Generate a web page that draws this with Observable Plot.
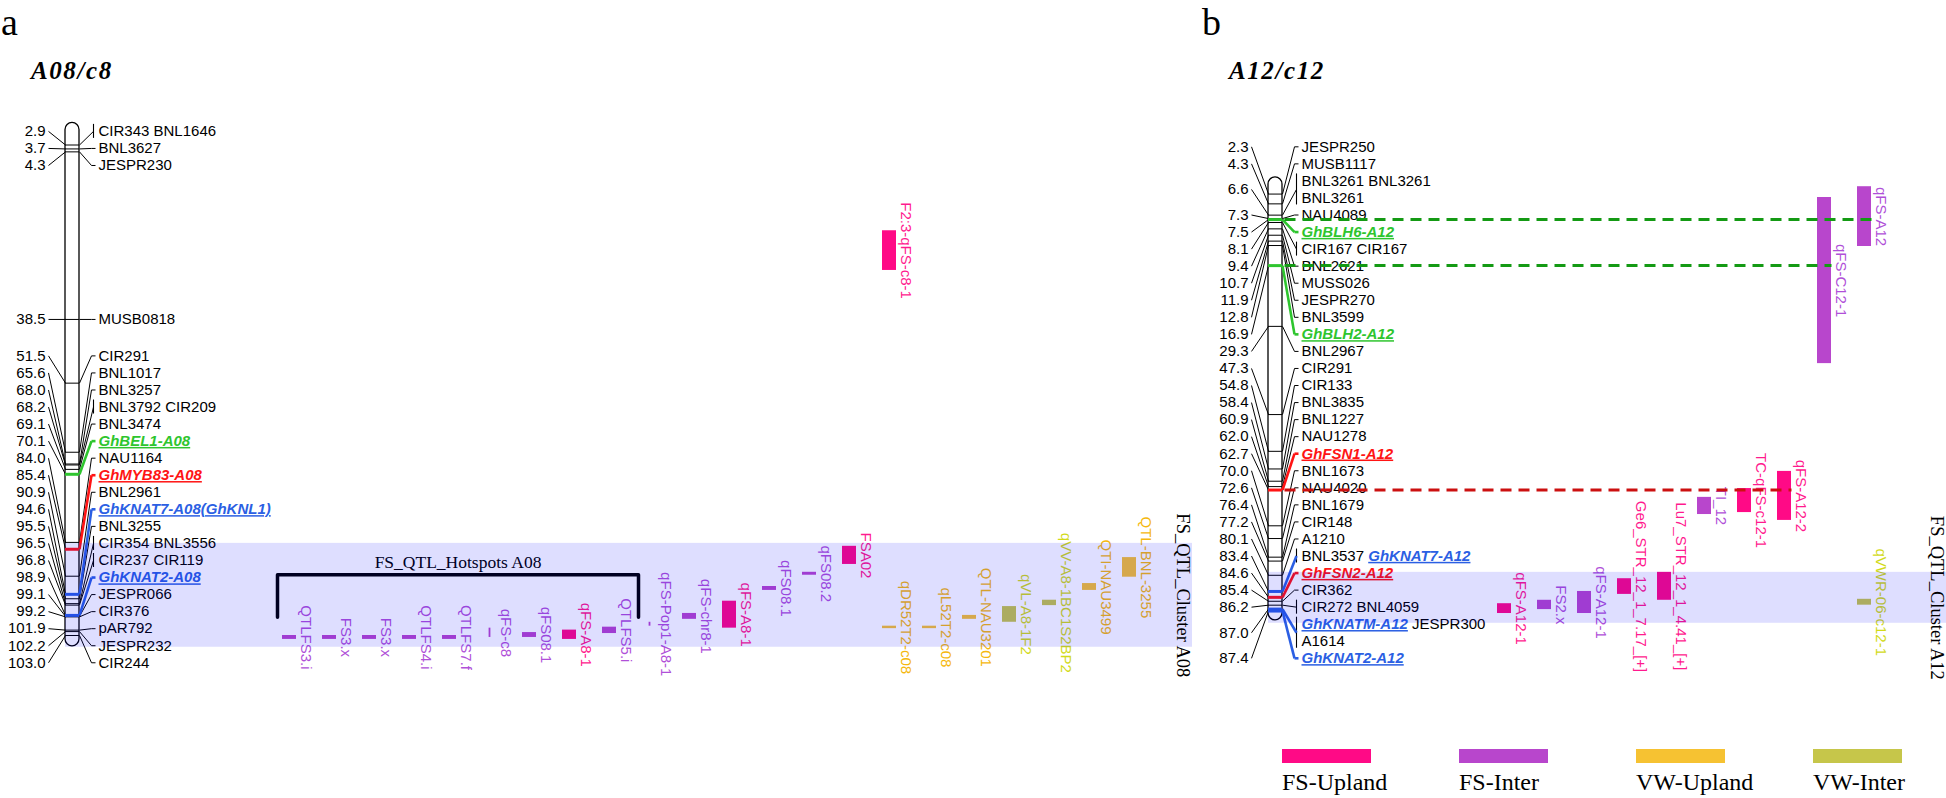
<!DOCTYPE html>
<html>
<head>
<meta charset="utf-8">
<script src="https://cdn.jsdelivr.net/npm/d3@7"></script>
<script src="https://cdn.jsdelivr.net/npm/@observablehq/plot@0.6"></script>
<style>
html,body{margin:0;padding:0;background:#fff;}
#wrap{position:relative;width:1946px;height:798px;overflow:hidden;font-family:"Liberation Sans",Arial,sans-serif;}
.panel{position:absolute;top:0;}
.hdr{position:relative;height:100px;}
.letter{position:absolute;top:3px;font:38px/38px "Liberation Serif",serif;color:#000;}
.chrname{position:absolute;top:58px;font:italic bold 25px/25px "Liberation Serif",serif;letter-spacing:1.6px;color:#000;}
.legend{position:relative;height:53px;}
.lg-item{position:absolute;top:4px;}
.lg-bar{width:89px;height:14px;}
.lg-text{position:absolute;left:0;top:20px;font:24px/27px "Liberation Serif",serif;white-space:nowrap;color:#000;}
</style>
</head>
<body>
<div id="wrap">
  <div class="panel" id="panelA" style="left:0;width:1196px;">
    <div class="hdr"><span class="letter" style="left:1px;">a</span><span class="chrname" style="left:31px;">A08/c8</span></div>
    <div id="plotA"></div>
  </div>
  <div class="panel" id="panelB" style="left:1196px;width:750px;">
    <div class="hdr"><span class="letter" style="left:6px;">b</span><span class="chrname" style="left:33px;">A12/c12</span></div>
    <div id="plotB"></div>
    <div class="legend" id="legend"></div>
  </div>
</div>
<script>
// ================= DATA =================
// ---- Panel a : A08/c8 linkage group (cM positions and loci)
const a_pos  = [2.9, 3.7, 4.3, 38.5, 51.5, 65.6, 68.0, 68.2, 69.1, 70.1, 84.0, 85.4, 90.9, 94.6, 95.5, 96.5, 96.8, 98.9, 99.1, 99.2, 101.9, 102.2, 103.0];
const a_loci = ["CIR343 BNL1646", "BNL3627", "JESPR230", "MUSB0818", "CIR291", "BNL1017", "BNL3257", "BNL3792 CIR209", "BNL3474",
                "GhBEL1-A08", "NAU1164", "GhMYB83-A08", "BNL2961", "GhKNAT7-A08(GhKNL1)", "BNL3255", "CIR354 BNL3556",
                "CIR237 CIR119", "GhKNAT2-A08", "JESPR066", "CIR376", "pAR792", "JESPR232", "CIR244"];
const a_chrom = [-1.6, 105.2];
const a_cluster = [84.2, 105.4];
const a_clusterLabel = "FS_QTL_Cluster A08";
// QTLs on A08
const a_qtlName  = ["QTLFS3.i", "FS3.x", "FS3.x", "QTLFS4.i", "QTLFS7.f", "qFS-c8", "qFS08.1", "qFS-A8-1", "QTLFS5.i", "qFS-Pop1-A8-1",
                    "qFS-chr8-1", "qFS-A8-1", "qFS08.1", "qFS08.2", "FSA02", "F2:3-qFS-c8-1", "qDR52T2-c08", "qL52T2-c08",
                    "QTL-NAU3201", "qVL-A8-1F2", "qVV-A8-1BC1S2BP2", "QTI-NAU3499", "QTL-BNL-3255"];
const a_qtlType  = ["FS-Inter", "FS-Inter", "FS-Inter", "FS-Inter", "FS-Inter", "FS-Inter", "FS-Inter", "FS-Upland", "FS-Inter", "FS-Inter",
                    "FS-Inter", "FS-Upland", "FS-Inter", "FS-Inter", "FS-Upland", "FS-Upland", "VW-Upland", "VW-Upland",
                    "VW-Upland", "VW-Inter", "VW-Inter", "VW-Upland", "VW-Upland"];
const a_qtlStart = [103.0, 103.0, 103.0, 103.0, 103.0, 101.5, 102.4, 101.9, 101.3, 100.3, 98.5, 96.0, 93.0, 90.1, 84.8, 20.4, 101.1, 101.1, 98.9, 97.1, 95.8, 92.4, 87.1];
const a_qtlEnd   = [103.8, 103.8, 103.8, 103.8, 103.8, 103.4, 103.4, 103.8, 102.6, 101.1, 99.7, 101.5, 93.8, 90.7, 88.5, 28.5, 101.6, 101.6, 99.7, 100.3, 96.9, 93.8, 91.1];
const a_qtlTrack = [0, 1, 2, 3, 4, 5, 6, 7, 8, 9, 10, 11, 12, 13, 14, 15, 15, 16, 17, 18, 19, 20, 21];
const a_qtlShape = ["box", "box", "box", "box", "box", "peak", "box", "box", "box", "peak", "box", "box", "box", "box", "box", "box", "box", "box", "box", "box", "box", "box", "box"];
const a_hotspotLabel = "FS_QTL_Hotspots A08";
const a_hotspotTracks = [0, 8];
const a_hotspotSpan = [90.6, 99.3];

// ---- Panel b : A12/c12 linkage group
const b_pos  = [2.3, 4.3, 6.6, 6.6, 7.3, 7.5, 8.1, 9.4, 10.7, 11.9, 12.8, 16.9, 29.3, 47.3, 54.8, 58.4, 60.9, 62.0, 62.7, 70.0,
                72.6, 76.4, 77.2, 80.1, 83.4, 84.6, 85.4, 86.2, 87.0, 87.0, 87.4];
const b_loci = ["JESPR250", "MUSB1117", "BNL3261 BNL3261", "BNL3261", "NAU4089", "GhBLH6-A12", "CIR167 CIR167", "BNL2621", "MUSS026",
                "JESPR270", "BNL3599", "GhBLH2-A12", "BNL2967", "CIR291", "CIR133", "BNL3835", "BNL1227", "NAU1278", "GhFSN1-A12",
                "BNL1673", "NAU4020", "BNL1679", "CIR148", "A1210", "BNL3537 GhKNAT7-A12", "GhFSN2-A12", "CIR362", "CIR272 BNL4059",
                "GhKNATM-A12 JESPR300", "A1614", "GhKNAT2-A12"];
const b_chrom = [-1.1, 89.3];
const b_cluster = [79.5, 89.9];
const b_clusterLabel = "FS_QTL_Cluster A12";
const b_qtlName  = ["qFS-A12-1", "FS2.x", "qFS-A12-1", "Ge6_STR_12_1_7.17_[+]", "Lu7_STR_12_1_4.41_[+]", "TI_12", "TC-qFS-c12-1",
                    "qFS-A12-2", "qFS-C12-1", "qFS-A12", "qVWR-06-c12-1"];
const b_qtlType  = ["FS-Upland", "FS-Inter", "FS-Inter", "FS-Upland", "FS-Upland", "FS-Inter", "FS-Upland", "FS-Upland", "FS-Inter", "FS-Inter", "VW-Inter"];
const b_qtlStart = [85.9, 85.2, 83.4, 80.8, 79.5, 64.2, 62.4, 58.9, 3.0, 0.8, 85.0];
const b_qtlEnd   = [87.9, 87.1, 87.9, 84.0, 85.2, 67.7, 67.3, 68.9, 36.9, 13.0, 86.2];
const b_qtlTrack = [0, 1, 2, 3, 4, 5, 6, 7, 8, 9, 9];
// gene-to-QTL colocalisation (dashed lines)
const b_linkGenes = ["GhBLH6-A12", "GhBLH2-A12", "GhFSN1-A12"];
const b_linkQtls  = ["qFS-A12", "qFS-C12-1", "qFS-A12-2"];

// legend
const legendTypes = ["FS-Upland", "FS-Inter", "VW-Upland", "VW-Inter"];

// ================= STYLE / LAYOUT =================
const TYPE_BAR   = {"FS-Upland": "#ff0a86", "FS-Inter": "#b846cc", "VW-Upland": "#f6c232", "VW-Inter": "#c6c64a"};
const TYPE_LABEL = {"FS-Upland": "#ff1a8e", "FS-Inter": "#b050d8", "VW-Upland": "#f5b80e", "VW-Inter": "#d2da1a"};
const GENE_GREEN = "#2ec52e", GENE_RED = "#ff1414", GENE_BLUE = "#2b5fe3";
const DASH_GREEN = "#149a14", DASH_RED = "#cc1010";
const PX_PER_CM = 4.9, ROW_STEP = 17.05, TRACK_STEP = 40, TRACK_W = 14;
const SANS = "Liberation Sans, Arial, sans-serif", SERIF = "Liberation Serif, Times New Roman, serif";

function geneColor(t) {
  if (!t.startsWith("Gh")) return null;
  if (/BEL|BLH/.test(t)) return GENE_GREEN;
  if (/MYB|FSN/.test(t)) return GENE_RED;
  if (/KNAT/.test(t)) return GENE_BLUE;
  return null;
}
function dashColor(t) { return geneColor(t) === GENE_GREEN ? DASH_GREEN : DASH_RED; }

const ctx = document.createElement("canvas").getContext("2d");
function textWidth(s, gene) {
  ctx.font = (gene ? "italic bold " : "") + '15px "Liberation Sans"';
  return ctx.measureText(s).width;
}

// MapChart-like label placement: clusters centred so first and last labels are equally displaced
function layoutRows(d, step) {
  let clusters = d.map((v, i) => ({i0: i, i1: i}));
  const place = c => (d[c.i0] + d[c.i1] - (c.i1 - c.i0) * step) / 2;
  let changed = true;
  while (changed) {
    changed = false;
    for (let k = 0; k < clusters.length - 1; k++) {
      const a = clusters[k], b = clusters[k + 1];
      const aBottom = place(a) + (a.i1 - a.i0) * step;
      if (place(b) < aBottom + step - 1e-6) {
        clusters.splice(k, 2, {i0: a.i0, i1: b.i1});
        changed = true;
        break;
      }
    }
  }
  const out = new Array(d.length);
  for (const c of clusters) { const t = place(c); for (let i = c.i0; i <= c.i1; i++) out[i] = t + (i - c.i0) * step; }
  return out;
}

function buildPanel(cfg) {
  const H = cfg.height, CL = cfg.CL, CR = cfg.CL + 14;
  const domain = [-cfg.zeroY / PX_PER_CM, (H - cfg.zeroY) / PX_PER_CM];
  const yS = Plot.scale({y: {domain, range: [0, H]}});

  const rows = cfg.pos.map((p, i) => ({pos: p, loci: cfg.loci[i]}));
  const lp = layoutRows(rows.map(r => yS.apply(r.pos)), ROW_STEP);
  rows.forEach((r, i) => { r.px = lp[i]; r.labelY = yS.invert(lp[i]); });

  const groups = d3.groups(rows, r => r.pos).map(([pos, rs]) => {
    const genes = rs.flatMap(r => r.loci.split(" ")).map(geneColor).filter(Boolean);
    const multi = rs.length > 1 || rs[0].loci.includes(" ");
    return {pos, labelY: yS.invert(d3.mean(rs, r => r.px)), color: genes[0] || null, multi,
            b1: yS.invert(rs[0].px - 7), b2: yS.invert(rs[rs.length - 1].px + 7)};
  });
  const plain = groups.filter(g => !g.color), genic = groups.filter(g => g.color);

  const spaceW = textWidth(" ", false);
  const tokens = [];
  for (const r of rows) {
    let off = 0;
    for (const t of r.loci.split(" ")) {
      const c = geneColor(t);
      tokens.push({text: t, labelY: r.labelY, off, color: c});
      off += textWidth(t, !!c) + spaceW;
    }
  }

  const qtls = cfg.qtlName.map((n, i) => ({name: n, type: cfg.qtlType[i], start: cfg.qtlStart[i], end: cfg.qtlEnd[i],
                                            track: cfg.qtlTrack[i], shape: cfg.qtlShape ? cfg.qtlShape[i] : "box"}));
  const tl = d => cfg.track0 + d.track * TRACK_STEP;
  const endX = g => g.multi ? CR + 14 : CR + 12;

  const marks = [
    // chromosome
    Plot.rect([cfg.chrom], {x1: CL, x2: CR, y1: d => d[0], y2: d => d[1], rx: 7, fill: "white", stroke: "black", strokeWidth: 1.3}),
    Plot.ruleY(plain, {y: "pos", x1: CL, x2: CR, stroke: "black", strokeWidth: 1}),
    // left connectors to position labels
    Plot.link(groups, {x1: CL, y1: "pos", x2: CL - 17, y2: "labelY", stroke: "black", strokeWidth: 1}),
    // right connectors
    Plot.link(plain, {x1: CR, y1: "pos", x2: endX, y2: "labelY", stroke: "black", strokeWidth: 1}),
    Plot.link(plain.filter(g => !g.multi), {x1: CR + 12, x2: CR + 16, y1: "labelY", y2: "labelY", stroke: "black", strokeWidth: 1}),
    Plot.ruleX(groups.filter(g => g.multi), {x: CR + 14, y1: "b1", y2: "b2", stroke: "black", strokeWidth: 1.1}),
    Plot.ruleY(genic, {y: "pos", x1: CL, x2: CR, stroke: d => d.color, strokeWidth: 3}),
    Plot.link(genic, {x1: CR, y1: "pos", x2: endX, y2: "labelY", stroke: d => d.color, strokeWidth: 2.6}),
    Plot.link(genic.filter(g => !g.multi), {x1: CR + 12, x2: CR + 16, y1: "labelY", y2: "labelY", stroke: d => d.color, strokeWidth: 2.6}),
    // labels
    Plot.text(groups, {x: CL - 20, y: "labelY", text: d => d.pos.toFixed(1), textAnchor: "end", fontSize: 15, fontFamily: SANS, fill: "black"}),
    Plot.text(tokens.filter(t => !t.color), {x: d => CR + 19 + d.off, y: "labelY", text: "text", textAnchor: "start", fontSize: 15, fontFamily: SANS, fill: "black"}),
    Plot.text(tokens.filter(t => t.color), {x: d => CR + 19 + d.off, y: "labelY", text: "text", textAnchor: "start", fontSize: 15, fontFamily: SANS,
                                             fontWeight: "bold", fontStyle: "italic", fill: d => d.color}),
    // QTLs
    Plot.rect(qtls.filter(q => q.shape === "box"), {x1: tl, x2: d => tl(d) + TRACK_W, y1: "start", y2: "end", fill: d => TYPE_BAR[d.type]}),
    Plot.ruleX(qtls.filter(q => q.shape === "peak"), {x: d => tl(d) + TRACK_W / 2, y1: "start", y2: "end", stroke: d => TYPE_BAR[d.type], strokeWidth: 1.8}),
    Plot.text(qtls, {x: d => tl(d) + TRACK_W / 2 + 16, y: d => (d.start + d.end) / 2, text: "name", rotate: 90,
                     fontSize: 15, fontFamily: SANS, fill: d => TYPE_LABEL[d.type]})
  ];

  if (cfg.hotspotLabel) {
    const hx1 = cfg.track0 + cfg.hotspotTracks[0] * TRACK_STEP - 5;
    const hx2 = cfg.track0 + cfg.hotspotTracks[1] * TRACK_STEP + 36;
    const s = cfg.hotspotSpan;
    marks.push(Plot.line([[hx1, s[1]], [hx1, s[0]], [hx2, s[0]], [hx2, s[1]]], {x: d => d[0], y: d => d[1], stroke: "black", strokeWidth: 3.5}));
    marks.push(Plot.text([cfg.hotspotLabel], {x: (hx1 + hx2) / 2, y: s[0], dy: -12, text: d => d, fontFamily: SERIF, fontSize: 17.5, fill: "black"}));
  }
  if (cfg.linkGenes) {
    const links = cfg.linkGenes.map((g, i) => {
      const grp = groups.find(gr => rows.some(r => r.pos === gr.pos && r.loci.split(" ").includes(g)));
      const q = qtls.find(q => q.name === cfg.linkQtls[i]);
      return {pos: grp.pos, x2: tl(q) + TRACK_W, color: dashColor(g)};
    });
    marks.push(Plot.link(links, {x1: CR + 2, x2: "x2", y1: "pos", y2: "pos", stroke: "color", strokeWidth: 3, strokeDasharray: "11,7"}));
  }
  // QTL cluster band overlay + label
  marks.push(Plot.rect([cfg.cluster], {x1: CL, x2: cfg.bandRight, y1: d => d[0], y2: d => d[1], fill: "#0000ff", fillOpacity: 0.13}));
  marks.push(Plot.text([cfg.clusterLabel], {x: cfg.bandRight - 10, y: (cfg.cluster[0] + cfg.cluster[1]) / 2, text: d => d, rotate: 90,
                                            fontFamily: SERIF, fontSize: 18.5, fill: "black"}));

  const svg = Plot.plot({
    width: cfg.width, height: H, margin: 0,
    x: {type: "identity", axis: null},
    y: {domain, range: [0, H], axis: null},
    style: {background: "transparent", overflow: "visible"},
    marks
  });
  svg.querySelectorAll('g[font-style="italic"] text').forEach(t => t.style.textDecoration = "underline");
  return svg;
}

document.getElementById("plotA").appendChild(buildPanel({
  width: 1196, height: 698, zeroY: 30.3, CL: 65, track0: 282, bandRight: 1192,
  pos: a_pos, loci: a_loci, chrom: a_chrom, cluster: a_cluster, clusterLabel: a_clusterLabel,
  qtlName: a_qtlName, qtlType: a_qtlType, qtlStart: a_qtlStart, qtlEnd: a_qtlEnd, qtlTrack: a_qtlTrack, qtlShape: a_qtlShape,
  hotspotLabel: a_hotspotLabel, hotspotTracks: a_hotspotTracks, hotspotSpan: a_hotspotSpan
}));

document.getElementById("plotB").appendChild(buildPanel({
  width: 750, height: 645, zeroY: 82.3, CL: 72, track0: 301, bandRight: 750,
  pos: b_pos, loci: b_loci, chrom: b_chrom, cluster: b_cluster, clusterLabel: b_clusterLabel,
  qtlName: b_qtlName, qtlType: b_qtlType, qtlStart: b_qtlStart, qtlEnd: b_qtlEnd, qtlTrack: b_qtlTrack,
  linkGenes: b_linkGenes, linkQtls: b_linkQtls
}));

// legend
const lg = d3.select("#legend");
legendTypes.forEach((t, i) => {
  const item = lg.append("div").attr("class", "lg-item").style("left", (86 + i * 177) + "px");
  item.append("div").attr("class", "lg-bar").style("background", TYPE_BAR[t]);
  item.append("div").attr("class", "lg-text").text(t);
});
</script>
</body>
</html>
